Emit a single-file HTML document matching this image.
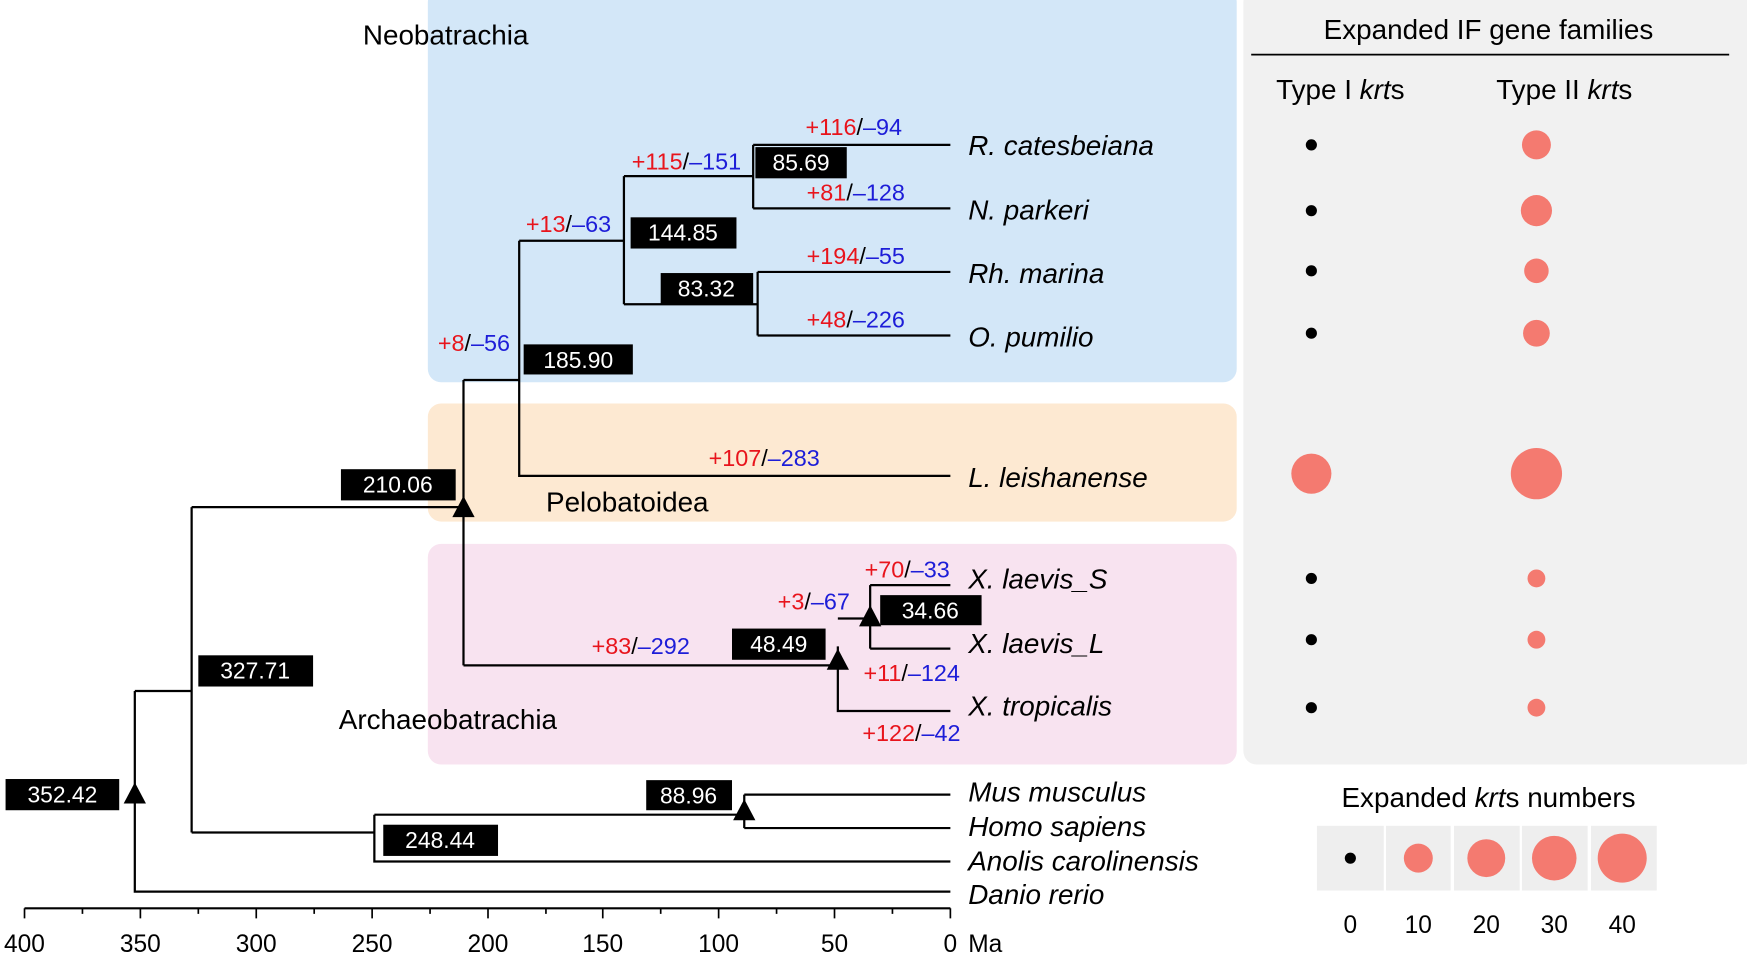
<!DOCTYPE html>
<html><head><meta charset="utf-8"><style>
html,body{margin:0;padding:0;background:#fff}
svg{display:block}
text{font-family:"Liberation Sans",Arial,sans-serif}
.r{fill:#e8141c}.b{fill:#1d1dd8}
.sp{font-size:25px;font-style:italic}
.nl{font-size:21px}
.bx{fill:#000}.bt{fill:#fff;font-size:20.5px;text-anchor:middle}
</style></head><body>
<svg width="1747" height="954" viewBox="0 0 1568 856" preserveAspectRatio="none" xmlns="http://www.w3.org/2000/svg">
<rect x="384" y="-10" width="726" height="353" rx="12" fill="#d3e7f8"/>
<rect x="384" y="362" width="726" height="106" rx="12" fill="#fde9d2"/>
<rect x="384" y="488" width="726" height="198" rx="12" fill="#f8e3f0"/>
<rect x="1116" y="-10" width="460" height="696" rx="12" fill="#f1f1f1"/>
<text x="400" y="40" font-size="25" text-anchor="middle">Neobatrachia</text>
<text x="563" y="459" font-size="25" text-anchor="middle">Pelobatoidea</text>
<text x="402" y="654" font-size="25" text-anchor="middle">Archaeobatrachia</text>
<g stroke="#000" stroke-width="2" fill="none">
<path d="M121 620V800H853M121 620H172M172 455V747M172 747H336M336 731V773H853M336 731H668M668 713V743M668 713H853M668 743H853"/>
<path d="M172 455H416M416 341V597M416 341H466M466 216V427H853M466 216H560M560 158V273M560 158H676M676 130V187M676 130H853M676 187H853M560 273H680M680 244V301M680 244H853M680 301H853"/>
<path d="M416 597H752M752 580V638H853M752 555H781M781 525V582M781 525H853M781 582H853"/>
<path d="M22 815H853"/>
</g>
<g fill="#000">
<polygon points="121,702 111,721 131,721"/>
<polygon points="668,717 658,736 678,736"/>
<polygon points="416,445 406,464 426,464"/>
<polygon points="752,582 742,601 762,601"/>
<polygon points="781,543 771,562 791,562"/>
</g>
<g>
<rect class="bx" x="5" y="699" width="102" height="28"/><text class="bt" x="56" y="720">352.42</text>
<rect class="bx" x="178" y="588" width="103" height="28"/><text class="bt" x="229" y="609">327.71</text>
<rect class="bx" x="344" y="740" width="103" height="28"/><text class="bt" x="395" y="761">248.44</text>
<rect class="bx" x="580" y="700" width="77" height="27"/><text class="bt" x="618" y="721">88.96</text>
<rect class="bx" x="306" y="421" width="103" height="28"/><text class="bt" x="357" y="442">210.06</text>
<rect class="bx" x="470" y="309" width="98" height="27"/><text class="bt" x="519" y="330">185.90</text>
<rect class="bx" x="566" y="195" width="95" height="28"/><text class="bt" x="613" y="216">144.85</text>
<rect class="bx" x="678" y="132" width="82" height="28"/><text class="bt" x="719" y="153">85.69</text>
<rect class="bx" x="593" y="245" width="83" height="28"/><text class="bt" x="634" y="266">83.32</text>
<rect class="bx" x="657" y="564" width="84" height="28"/><text class="bt" x="699" y="585">48.49</text>
<rect class="bx" x="790" y="534" width="91" height="27"/><text class="bt" x="835" y="555">34.66</text>
</g>
<g class="nl">
<text x="723" y="121"><tspan class="r">+116</tspan>/<tspan class="b">–94</tspan></text>
<text x="567" y="152"><tspan class="r">+115</tspan>/<tspan class="b">–151</tspan></text>
<text x="724" y="180"><tspan class="r">+81</tspan>/<tspan class="b">–128</tspan></text>
<text x="472" y="208"><tspan class="r">+13</tspan>/<tspan class="b">–63</tspan></text>
<text x="724" y="237"><tspan class="r">+194</tspan>/<tspan class="b">–55</tspan></text>
<text x="724" y="294"><tspan class="r">+48</tspan>/<tspan class="b">–226</tspan></text>
<text x="393" y="315"><tspan class="r">+8</tspan>/<tspan class="b">–56</tspan></text>
<text x="636" y="418"><tspan class="r">+107</tspan>/<tspan class="b">–283</tspan></text>
<text x="776" y="518"><tspan class="r">+70</tspan>/<tspan class="b">–33</tspan></text>
<text x="698" y="547"><tspan class="r">+3</tspan>/<tspan class="b">–67</tspan></text>
<text x="531" y="587"><tspan class="r">+83</tspan>/<tspan class="b">–292</tspan></text>
<text x="775" y="611"><tspan class="r">+11</tspan>/<tspan class="b">–124</tspan></text>
<text x="774" y="665"><tspan class="r">+122</tspan>/<tspan class="b">–42</tspan></text>
</g>
<g class="sp">
<text x="869" y="139">R. catesbeiana</text>
<text x="869" y="197">N. parkeri</text>
<text x="869" y="254">Rh. marina</text>
<text x="869" y="311">O. pumilio</text>
<text x="869" y="437">L. leishanense</text>
<text x="869" y="528">X. laevis_S</text>
<text x="869" y="586">X. laevis_L</text>
<text x="869" y="642">X. tropicalis</text>
<text x="869" y="719">Mus musculus</text>
<text x="869" y="750">Homo sapiens</text>
<text x="869" y="781">Anolis carolinensis</text>
<text x="869" y="811">Danio rerio</text>
</g>
<g stroke="#000" stroke-width="1.5">
<path d="M22 815v9M126 815v9M230 815v9M334 815v9M438 815v9M541 815v9M645 815v9M749 815v9M853 815v9"/>
<path d="M74 815v5M178 815v5M282 815v5M386 815v5M490 815v5M593 815v5M697 815v5M801 815v5"/>
</g>
<g font-size="22" text-anchor="middle">
<text x="22" y="854">400</text><text x="126" y="854">350</text><text x="230" y="854">300</text><text x="334" y="854">250</text><text x="438" y="854">200</text><text x="541" y="854">150</text><text x="645" y="854">100</text><text x="749" y="854">50</text><text x="853" y="854">0</text>
</g>
<text x="869" y="854" font-size="22">Ma</text>
<text x="1336" y="35" font-size="25" text-anchor="middle">Expanded IF gene families</text>
<line x1="1123" y1="49" x2="1552" y2="49" stroke="#000" stroke-width="1.5"/>
<text x="1203" y="89" font-size="25" text-anchor="middle">Type I <tspan font-style="italic">krt</tspan>s</text>
<text x="1404" y="89" font-size="25" text-anchor="middle">Type II <tspan font-style="italic">krt</tspan>s</text>
<g fill="#000">
<circle cx="1177" cy="130" r="5"/><circle cx="1177" cy="189" r="5"/><circle cx="1177" cy="243" r="5"/><circle cx="1177" cy="299" r="5"/>
<circle cx="1177" cy="519" r="5"/><circle cx="1177" cy="574" r="5"/><circle cx="1177" cy="635" r="5"/>
</g>
<g fill="#f47a70">
<circle cx="1177" cy="425" r="18"/>
<circle cx="1379" cy="130" r="13"/><circle cx="1379" cy="189" r="14"/><circle cx="1379" cy="243" r="11"/><circle cx="1379" cy="299" r="12"/>
<circle cx="1379" cy="425" r="23"/><circle cx="1379" cy="519" r="8"/><circle cx="1379" cy="574" r="8"/><circle cx="1379" cy="635" r="8"/>
</g>
<text x="1336" y="724" font-size="25" text-anchor="middle">Expanded <tspan font-style="italic">krt</tspan>s numbers</text>
<g fill="#eeeeee">
<rect x="1182" y="741" width="60" height="58"/><rect x="1244" y="741" width="58" height="58"/><rect x="1305" y="741" width="59" height="58"/><rect x="1366" y="741" width="59" height="58"/><rect x="1428" y="741" width="59" height="58"/>
</g>
<circle cx="1212" cy="770" r="5" fill="#000"/>
<g fill="#f47a70"><circle cx="1273" cy="770" r="13"/><circle cx="1334" cy="770" r="17"/><circle cx="1395" cy="770" r="20"/><circle cx="1456" cy="770" r="22"/></g>
<g font-size="22" text-anchor="middle">
<text x="1212" y="837">0</text><text x="1273" y="837">10</text><text x="1334" y="837">20</text><text x="1395" y="837">30</text><text x="1456" y="837">40</text>
</g>
</svg>
</body></html>
